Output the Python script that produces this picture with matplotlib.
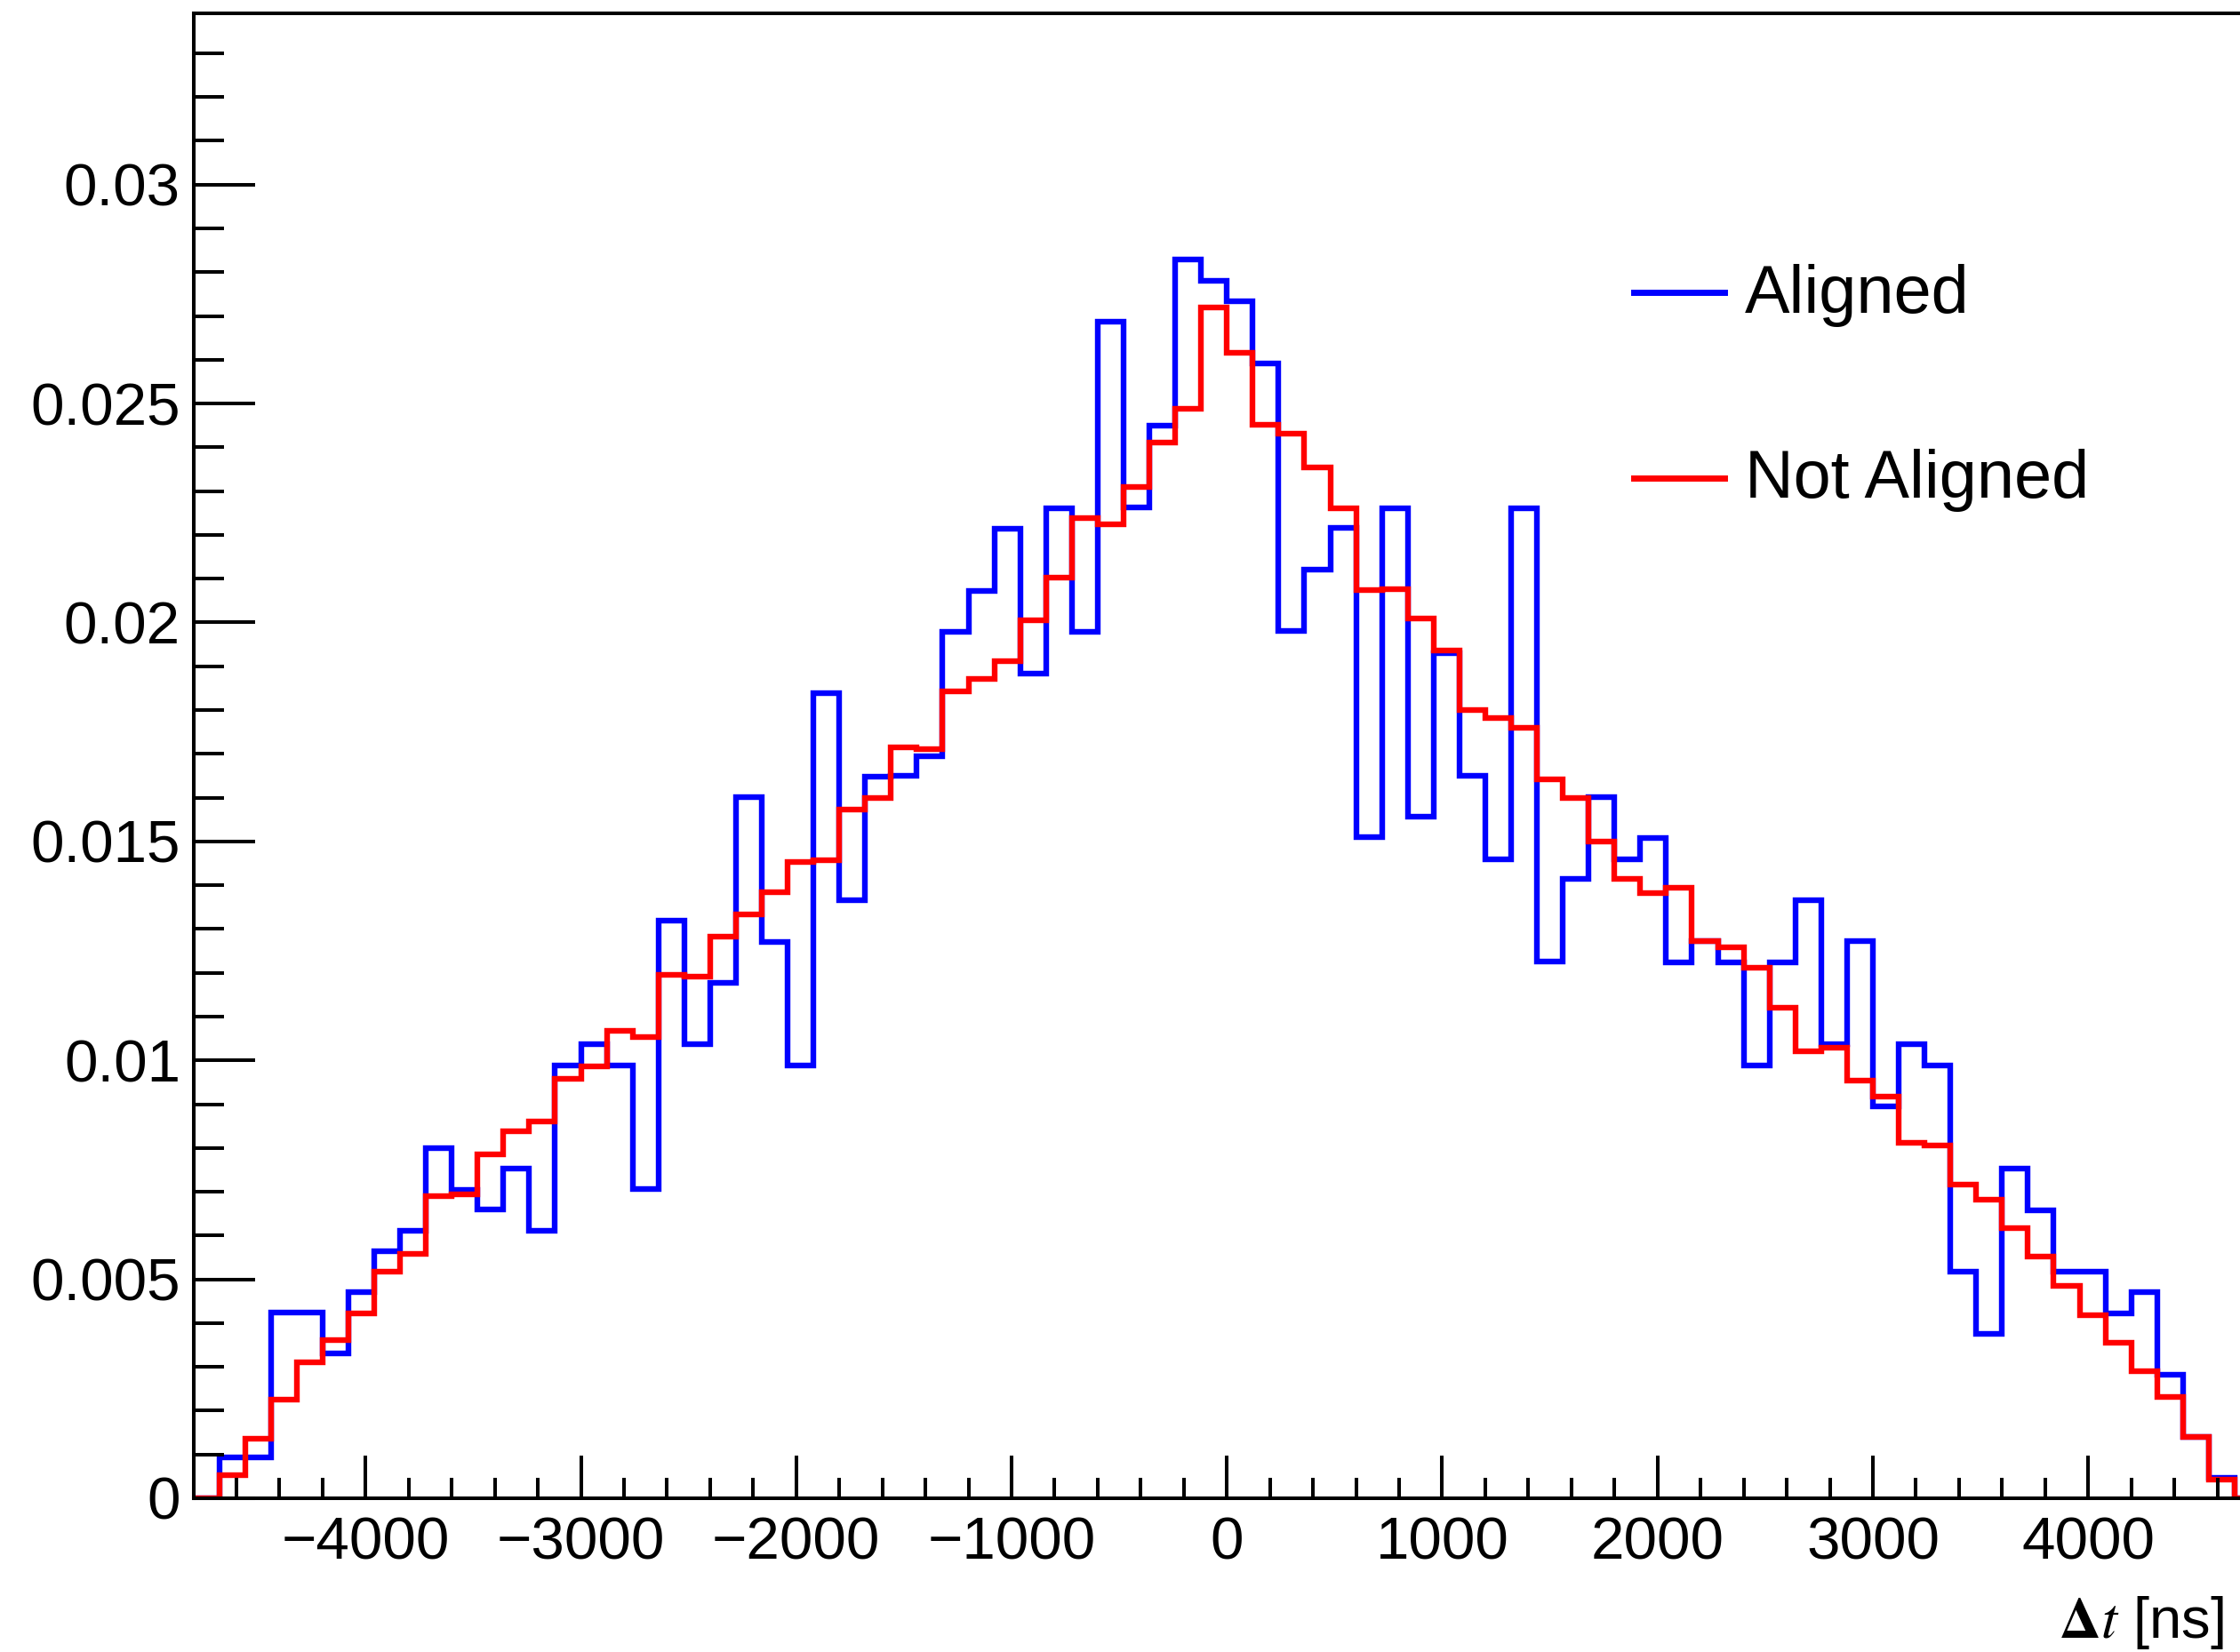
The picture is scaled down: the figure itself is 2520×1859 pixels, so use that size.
import numpy as np
import matplotlib
matplotlib.use("Agg")
import matplotlib.pyplot as plt
from matplotlib.lines import Line2D
from matplotlib.ticker import MultipleLocator

plt.rcParams['font.family'] = ['Liberation Sans', 'DejaVu Sans']
plt.rcParams['mathtext.fontset'] = 'stix'

# ---- data ----
bin_edges = np.arange(-4800, 4801, 120)

aligned = [0.0, 0.00093, 0.00093, 0.00425, 0.00425, 0.0033, 0.0047, 0.00565, 0.00611, 0.0080,
           0.00705, 0.00659, 0.00753, 0.0061, 0.00989, 0.01037, 0.00989, 0.00707, 0.01319, 0.01037,
           0.01178, 0.01601, 0.01271, 0.00989, 0.01839, 0.01366, 0.01648, 0.01649, 0.01694, 0.01979,
           0.02072, 0.02214, 0.01884, 0.0226, 0.01979, 0.02687, 0.02262, 0.0245, 0.02828, 0.0278,
           0.02733, 0.02591, 0.01981, 0.0212, 0.02216, 0.01509, 0.02261, 0.01557, 0.0193, 0.0165,
           0.0146, 0.02261, 0.01226, 0.01414, 0.01602, 0.0146, 0.01507, 0.01224, 0.01272, 0.01224,
           0.00989, 0.01224, 0.01366, 0.01038, 0.01272, 0.00894, 0.01036, 0.00989, 0.00517, 0.00376,
           0.00753, 0.00658, 0.00517, 0.00517, 0.00423, 0.0047, 0.00282, 0.00141, 0.00047, 0.0]

not_aligned = [0.0, 0.00052, 0.00135, 0.00225, 0.0031, 0.00362, 0.00423, 0.00518, 0.00558, 0.0069,
               0.00694, 0.00785, 0.00838, 0.00861, 0.00958, 0.00986, 0.01068, 0.01053, 0.01196, 0.01192,
               0.01282, 0.01333, 0.01384, 0.01452, 0.01458, 0.01572, 0.016, 0.01715, 0.01711, 0.01843,
               0.01871, 0.01911, 0.02005, 0.02103, 0.02238, 0.02225, 0.02309, 0.0241, 0.02488, 0.0272,
               0.02616, 0.02452, 0.02431, 0.02355, 0.0226, 0.02074, 0.02077, 0.0201, 0.01935, 0.01801,
               0.01782, 0.0176, 0.01642, 0.016, 0.015, 0.01414, 0.01381, 0.01395, 0.01272, 0.01259,
               0.01211, 0.01121, 0.01021, 0.01028, 0.00953, 0.00917, 0.00811, 0.00806, 0.00717, 0.00681,
               0.00617, 0.00551, 0.00485, 0.00419, 0.00355, 0.00291, 0.00232, 0.00141, 0.00043, 0.0]

series_labels = ["Aligned", "Not Aligned"]
x_ticks = [-4000, -3000, -2000, -1000, 0, 1000, 2000, 3000, 4000]
x_tick_labels = ["\u22124000", "\u22123000", "\u22122000", "\u22121000", "0",
                 "1000", "2000", "3000", "4000"]
y_ticks = [0, 0.005, 0.01, 0.015, 0.02, 0.025, 0.03]
y_tick_labels = ["0", "0.005", "0.01", "0.015", "0.02", "0.025", "0.03"]

# ---- figure ----
W, H = 2520, 1859
dpi = 100
fig = plt.figure(figsize=(W / dpi, H / dpi), dpi=dpi)
left_px, right_px, top_px, bottom_px = 217.5, 2543.0, 15.5, 1686.0
ax = fig.add_axes([left_px / W, 1 - bottom_px / H, (right_px - left_px) / W, (bottom_px - top_px) / H])

lw = 4.6
ax.stairs(aligned, bin_edges, color='#0000ff', linewidth=lw, baseline=0)
ax.stairs(not_aligned, bin_edges, color='#ff0000', linewidth=lw, baseline=0)

ax.set_xlim(-4800, 4800)
ax.set_ylim(0, 0.0339)

ax.set_xticks(x_ticks)
ax.set_xticklabels(x_tick_labels)
ax.xaxis.set_minor_locator(MultipleLocator(200))
ax.set_yticks(y_ticks)
ax.set_yticklabels(y_tick_labels)
ax.yaxis.set_minor_locator(MultipleLocator(0.001))

for s in ax.spines.values():
    s.set_linewidth(2.9)

ax.tick_params(axis='both', which='both', direction='in', width=2.9, labelsize=48.5)
ax.tick_params(axis='y', which='major', length=49.7, pad=10.5)
ax.tick_params(axis='y', which='minor', length=24.5)
ax.tick_params(axis='x', which='major', length=34.5, pad=14.5)
ax.tick_params(axis='x', which='minor', length=16.5)
ax.tick_params(top=False, right=False)

# x-axis title, right aligned (ROOT style)
fig.text(2502 / W, 1 - 1843 / H, r"$\mathbf{\Delta}\mathit{t}$ [ns]", ha='right', va='baseline',
         fontsize=47)

# legend
colors = ['#0000ff', '#ff0000']
line_y = [329, 538]
text_base = [352, 560]
for lab, c, ly, tb in zip(series_labels, colors, line_y, text_base):
    fig.add_artist(Line2D([1838 / W, 1940 / W], [1 - ly / H, 1 - ly / H],
                          transform=fig.transFigure, color=c, linewidth=5.0))
    fig.text(1963 / W, 1 - tb / H, lab, ha='left', va='baseline', fontsize=54.5)

fig.savefig("out.png", dpi=dpi)
